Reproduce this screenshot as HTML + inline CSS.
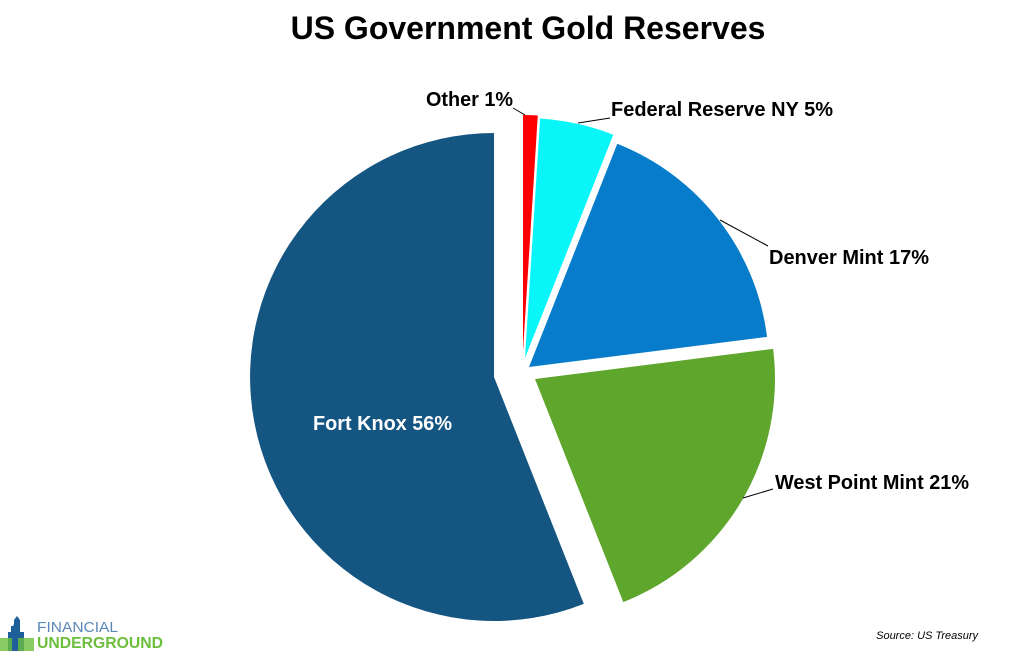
<!DOCTYPE html>
<html><head><style>
body{margin:0;background:#fff;width:1011px;height:651px;overflow:hidden;font-family:"Liberation Sans",sans-serif}
</style></head><body>
<svg width="1011" height="651" viewBox="0 0 1011 651" xmlns="http://www.w3.org/2000/svg" font-family="Liberation Sans, sans-serif">
<text x="528" y="39" text-anchor="middle" font-size="32" font-weight="bold">US Government Gold Reserves</text>
<path d="M494,377 L583.8,603.9 A244,244 0 1 1 494,133 Z" fill="#145582"/>
<path d="M523,351 L523,115 A236,236 0 0 1 537.8,115.5 Z" fill="#ff0000"/>
<path d="M525,358 L540.1,118.5 A240,240 0 0 1 613.3,134.7 Z" fill="#0af5f8"/>
<path d="M529,367 L617.3,143.8 A240,240 0 0 1 767.1,336.9 Z" fill="#077ccb"/>
<path d="M535,379 L773.1,348.9 A240,240 0 0 1 623.3,602.1 Z" fill="#5fa62d"/>
<g stroke="#000" stroke-width="1" fill="none">
<line x1="513" y1="108" x2="525" y2="115"/>
<line x1="610" y1="118" x2="578" y2="123"/>
<line x1="720" y1="220" x2="768" y2="246"/>
<line x1="743" y1="498" x2="773" y2="489"/>
</g>
<g font-size="20" font-weight="bold">
<text x="426" y="106" textLength="87" lengthAdjust="spacingAndGlyphs">Other 1%</text>
<text x="611" y="116" textLength="222" lengthAdjust="spacingAndGlyphs">Federal Reserve NY 5%</text>
<text x="769" y="264" textLength="160" lengthAdjust="spacingAndGlyphs">Denver Mint 17%</text>
<text x="775" y="489" textLength="194" lengthAdjust="spacingAndGlyphs">West Point Mint 21%</text>
<text x="313" y="430" fill="#fff" textLength="139" lengthAdjust="spacingAndGlyphs">Fort Knox 56%</text>
</g>
<text x="978" y="639" text-anchor="end" font-size="11" font-style="italic">Source: US Treasury</text>
<g>
<polygon points="8,651 8,632 11,632 11,626 14,626 14,620 17,616 20,620 20,632 24,632 24,651" fill="#1e5f99"/>
<rect x="0" y="638" width="34" height="13" fill="#6cbf3c" opacity="0.8"/>
<polygon points="12,651 12,628 15,622 18,628 18,651" fill="#1e5f99"/>
<text x="37" y="632" font-size="15" fill="#5b87b5" textLength="81" lengthAdjust="spacingAndGlyphs">FINANCIAL</text>
<text x="37" y="648" font-size="16" font-weight="bold" fill="#6cbf3c" textLength="126" lengthAdjust="spacingAndGlyphs">UNDERGROUND</text>
</g>
</svg>
</body></html>
